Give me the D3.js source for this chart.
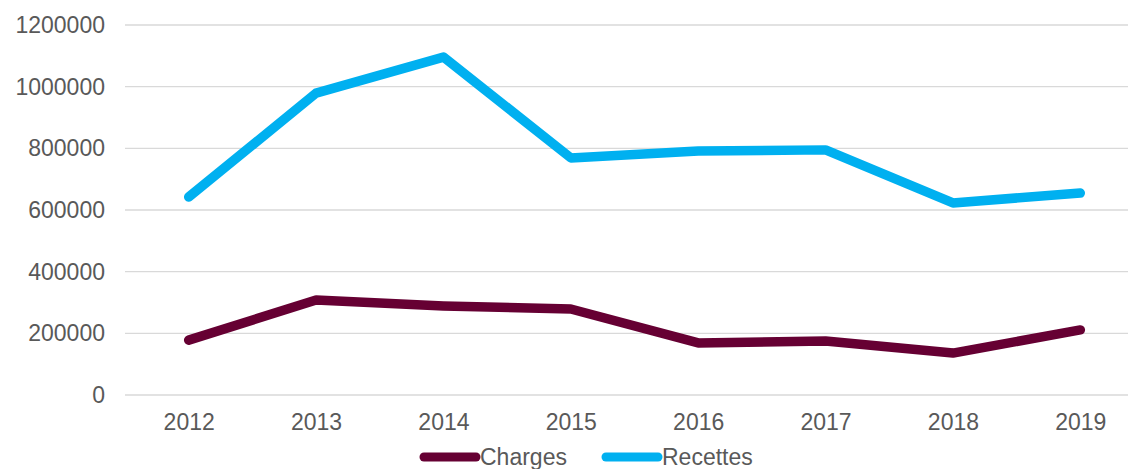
<!DOCTYPE html>
<html>
<head>
<meta charset="utf-8">
<script src="https://cdn.jsdelivr.net/npm/d3@7"></script>
<style>
  body { margin: 0; background: #fff; }
  svg { display: block; font-family: 'Liberation Sans', Arial, sans-serif; }
</style>
</head>
<body>
<svg></svg>
<script>
// ---------------- data ----------------
let years = ['2012', '2013', '2014', '2015', '2016', '2017', '2018', '2019']
let charges = [178000, 308000, 289000, 279000, 169000, 175000, 136000, 211000]
let recettes = [642000, 979000, 1096000, 769000, 791000, 795000, 623000, 655000]
let yTicks = [0, 200000, 400000, 600000, 800000, 1000000, 1200000]

let seriesNames = ['Charges', 'Recettes']
let seriesColors = ['#660033', '#00B0F0']

let width = 1128
let height = 469

let svg = d3.select('svg')
  .attr('width', width)
  .attr('height', height)

let xScale = d3.scalePoint()
  .domain(years)
  .range([125, 1144])
  .padding(0.5)

let yScale = d3.scaleLinear()
  .domain([0, 1200000])
  .range([395, 25])

// gridlines
svg.append('g')
  .selectAll('line')
  .data(yTicks)
  .enter()
  .append('line')
  .attr('x1', 125)
  .attr('x2', width)
  .attr('y1', d => yScale(d))
  .attr('y2', d => yScale(d))
  .attr('stroke', '#d9d9d9')
  .attr('stroke-width', 1.3)

// y axis labels
let yAxis = d3.axisLeft(yScale)
  .tickValues(yTicks)
  .tickFormat(d3.format('d'))
  .tickSize(0)
  .tickPadding(0)

svg.append('g')
  .attr('transform', 'translate(105, 0)')
  .call(yAxis)
  .call(g => g.select('.domain').remove())
  .selectAll('text')
  .attr('font-size', 23)
  .attr('fill', '#595959')
  .attr('font-family', "'Liberation Sans', Arial, sans-serif")

// x axis labels
let xAxis = d3.axisBottom(xScale)
  .tickSize(0)
  .tickPadding(0)

svg.append('g')
  .attr('transform', 'translate(0, 414)')
  .call(xAxis)
  .call(g => g.select('.domain').remove())
  .selectAll('text')
  .attr('font-size', 23)
  .attr('fill', '#595959')
  .attr('font-family', "'Liberation Sans', Arial, sans-serif")

// lines
let line = d3.line()
  .x((d, i) => xScale(years[i]))
  .y(d => yScale(d))

let allSeries = [charges, recettes]

svg.append('g')
  .selectAll('path')
  .data(allSeries)
  .enter()
  .append('path')
  .attr('d', d => line(d))
  .attr('fill', 'none')
  .attr('stroke', (d, i) => seriesColors[i])
  .attr('stroke-width', 9.5)
  .attr('stroke-linejoin', 'round')
  .attr('stroke-linecap', 'round')

// legend
let legendX = [424, 606]
let legend = svg.append('g')
  .selectAll('g')
  .data(seriesNames)
  .enter()
  .append('g')
  .attr('transform', (d, i) => 'translate(' + legendX[i] + ', 457)')

legend.append('line')
  .attr('x1', 0)
  .attr('x2', 52)
  .attr('stroke', (d, i) => seriesColors[i])
  .attr('stroke-width', 9)
  .attr('stroke-linecap', 'round')

legend.append('text')
  .attr('x', 56)
  .attr('y', 8)
  .attr('font-size', 23)
  .attr('fill', '#595959')
  .text(d => d)
</script>
</body>
</html>
